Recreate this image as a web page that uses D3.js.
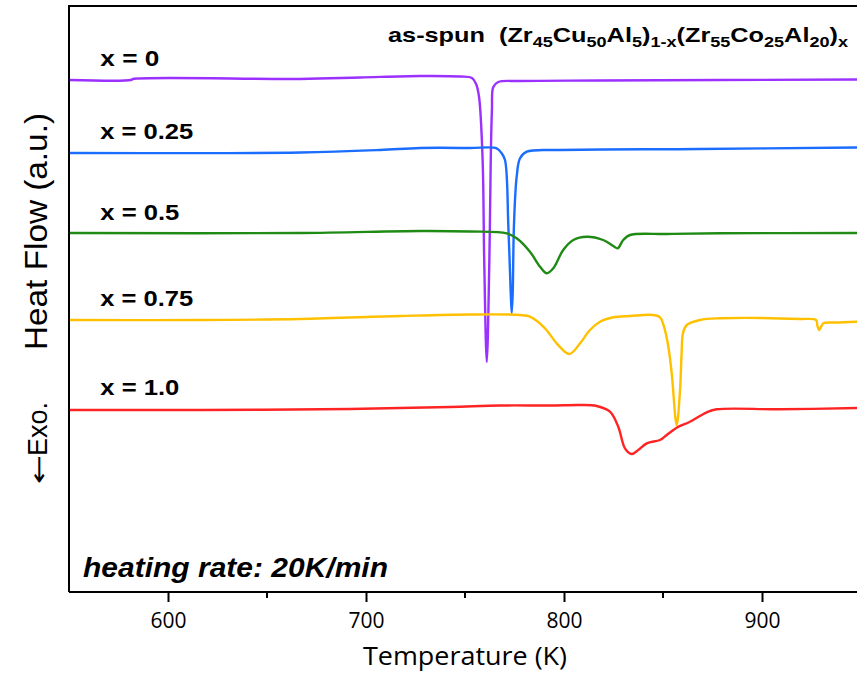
<!DOCTYPE html>
<html>
<head>
<meta charset="utf-8">
<script src="https://cdn.jsdelivr.net/npm/d3@7"></script>
<style>
  html, body { margin: 0; padding: 0; background: #fff; }
  svg { display: block; }
</style>
</head>
<body>
<svg id="chart" width="857" height="675"></svg>
<script>
// DSC traces of as-spun (Zr45Cu50Al5)1-x(Zr55Co25Al20)x ribbons, heated at 20 K/min.
// Heat flow is in arbitrary units; each trace carries its own vertical offset.

const seriesNames = ["x = 0", "x = 0.25", "x = 0.5", "x = 0.75", "x = 1.0"];
const seriesColors = ["#9b30ff", "#1a6dff", "#1f8a14", "#ffc000", "#ff2424"];

const xTicks = [600, 700, 800, 900];
const xMinorTicks = [650, 750, 850];

// x = 0
const tempX0 = [550, 581.3, 582.3, 666.7, 697.0, 727.3, 747.5, 753.5, 755.6, 757.1, 758.9, 759.7, 761.0, 762.3, 763.0, 763.6, 764.3, 766.8, 777.8, 818.2, 948.0];
const flowX0 = [512, 512, 513, 513, 514.5, 516, 515.5, 514, 508, 495, 432, 332, 230, 332, 432, 482, 505, 510, 511, 511.5, 512.5];

// x = 0.25
const tempX025 = [550, 666.7, 707.1, 727.3, 752.5, 766.0, 768.5, 770.2, 771.9, 773.1, 773.6, 774.1, 774.7, 776.1, 777.8, 781.2, 798.0, 868.7, 948.0];
const flowX025 = [439, 439.5, 442, 444, 444, 443.7, 438.7, 432, 365.3, 299, 279, 299, 365.3, 415.3, 433.7, 440.3, 442, 443, 444.5];

// x = 0.5
const tempX05 = [550, 666.7, 727.3, 752.5, 771.1, 776.1, 782.8, 787.9, 791.3, 794.6, 799.6, 804.7, 811.5, 819.8, 824.9, 827.1, 829.9, 833.3, 851.9, 878.8, 948.0];
const flowX05 = [359, 359, 361, 360.5, 358.7, 353.7, 340.3, 325.3, 318.7, 323.7, 342, 352, 355.3, 352, 346, 343.7, 352, 357, 358, 358.7, 359];

// x = 0.75
const tempX075 = [550, 616.2, 666.7, 717.2, 752.5, 777.8, 782.8, 790.4, 796.3, 802.7, 808.1, 813.1, 818.2, 824.9, 833.3, 845.1, 848.5, 850.5, 852.7, 854.4, 856.9, 858.6, 859.4, 860.1, 862.0, 868.7, 878.8, 919.2, 927.3, 928.0, 928.9, 929.8, 931.0, 936.9, 948.0];
const flowX075 = [272, 272, 273, 276, 277.5, 277, 275.3, 263.7, 248.7, 238, 248.7, 262, 270.3, 274.7, 276, 277, 274.7, 265.3, 245.3, 218.7, 167, 202, 239, 259, 267, 272, 273.7, 273, 272, 266, 262, 265, 268.7, 269.5, 270.3];

// x = 1.0
const tempX10 = [550, 616.2, 691.9, 742.4, 767.7, 792.9, 808.1, 816.5, 823.2, 827.4, 830.8, 834.2, 837.5, 841.8, 848.5, 851.9, 856.9, 863.6, 872.1, 877.1, 909.1, 948.0];
const flowX10 = [182, 182, 183, 185, 186.5, 186.5, 187, 186, 180.3, 165.3, 143.7, 138, 142, 148.7, 152, 157, 164.3, 170.3, 179.7, 182.7, 182.7, 184];

// Anchor temperature and heat-flow level of each series name
const labelTemp = [565.8, 565.8, 565.8, 565.8, 565.8];
const labelFlow = [526, 453, 372, 286, 197];

const temps = [tempX0, tempX025, tempX05, tempX075, tempX10];
const flows = [flowX0, flowX025, flowX05, flowX075, flowX10];

const margin = { left: 69, top: 6, bottom: 592, right: 857 };

const svg = d3.select("#chart");

const x = d3.scaleLinear().domain([550, 950]).range([margin.left, margin.left + 400 * 1.98]);
const y = d3.scaleLinear().domain([0, 586]).range([margin.bottom, margin.top]);

svg.append("defs").append("clipPath").attr("id", "plotClip")
  .append("rect")
  .attr("x", margin.left).attr("y", margin.top)
  .attr("width", margin.right - margin.left).attr("height", margin.bottom - margin.top);

// traces
const line = d3.line().x(d => x(d[0])).y(d => y(d[1])).curve(d3.curveCatmullRom.alpha(0.5));
const traces = svg.append("g").attr("clip-path", "url(#plotClip)");
temps.forEach((t, i) => {
  const pts = t.map((v, j) => [v, flows[i][j]]);
  traces.append("path")
    .datum(pts)
    .attr("d", line)
    .attr("fill", "none")
    .attr("stroke", seriesColors[i])
    .attr("stroke-width", 2.4)
    .attr("stroke-linejoin", "round");
});

// frame: top and left edges
svg.append("line")
  .attr("x1", margin.left).attr("x2", margin.right)
  .attr("y1", margin.top).attr("y2", margin.top)
  .attr("stroke", "#000").attr("stroke-width", 2);
svg.append("line")
  .attr("x1", margin.left).attr("x2", margin.left)
  .attr("y1", margin.top - 1).attr("y2", margin.bottom)
  .attr("stroke", "#000").attr("stroke-width", 2);

// bottom axis
const xAxis = d3.axisBottom(x).tickValues(xTicks).tickSize(10).tickSizeOuter(0).tickPadding(11).tickFormat(d3.format("d"));
const gx = svg.append("g").attr("transform", `translate(0,${margin.bottom})`).call(xAxis);
gx.select(".domain").attr("stroke-width", 2).attr("d", `M${margin.left},0H${margin.right}`);
gx.selectAll(".tick line").attr("stroke-width", 2);
gx.selectAll(".tick text")
  .attr("font-family", "'Open Sans', sans-serif")
  .attr("font-size", 21)
  .attr("fill", "#000");
const gxMinor = svg.append("g").attr("transform", `translate(0,${margin.bottom})`);
gxMinor.selectAll("line").data(xMinorTicks).join("line")
  .attr("x1", d => x(d)).attr("x2", d => x(d))
  .attr("y1", 0).attr("y2", 6)
  .attr("stroke", "#000").attr("stroke-width", 2);

// axis titles
svg.append("text")
  .attr("x", 363).attr("y", 665)
  .attr("font-family", "'Open Sans', sans-serif")
  .attr("font-size", 25)
  .attr("textLength", 204)
  .attr("lengthAdjust", "spacingAndGlyphs")
  .attr("fill", "#000")
  .text("Temperature (K)");

svg.append("text")
  .attr("transform", "translate(47,350) rotate(-90)")
  .attr("font-family", "'Liberation Sans', Arial, sans-serif")
  .attr("font-size", 32)
  .attr("textLength", 237)
  .attr("lengthAdjust", "spacingAndGlyphs")
  .attr("fill", "#000")
  .text("Heat Flow (a.u.)");

// exothermic direction marker
svg.append("text")
  .attr("transform", "translate(47,484) rotate(-90)")
  .attr("font-family", "'DejaVu Sans', sans-serif")
  .attr("font-size", 24)
  .attr("textLength", 29)
  .attr("lengthAdjust", "spacingAndGlyphs")
  .attr("fill", "#000")
  .text("\u2190");
svg.append("text")
  .attr("transform", "translate(47,456) rotate(-90)")
  .attr("font-family", "'Liberation Sans', Arial, sans-serif")
  .attr("font-size", 27)
  .attr("textLength", 54)
  .attr("lengthAdjust", "spacingAndGlyphs")
  .attr("fill", "#000")
  .text("Exo.");

// series names
const nameLengths = [59, 93, 79, 93, 79];
svg.append("g").selectAll("text").data(seriesNames).join("text")
  .attr("x", (d, i) => x(labelTemp[i]))
  .attr("y", (d, i) => y(labelFlow[i]))
  .attr("font-family", "'Liberation Sans', Arial, sans-serif")
  .attr("font-weight", "bold")
  .attr("font-size", 22)
  .attr("textLength", (d, i) => nameLengths[i])
  .attr("lengthAdjust", "spacingAndGlyphs")
  .attr("fill", "#000")
  .text(d => d);

// composition title with subscripts
const title = svg.append("text")
  .attr("x", 388).attr("y", 42)
  .attr("font-family", "'Liberation Sans', Arial, sans-serif")
  .attr("font-weight", "bold")
  .attr("font-size", 21)
  .attr("textLength", 460)
  .attr("lengthAdjust", "spacingAndGlyphs")
  .attr("fill", "#000");
const titleParts = [
  ["as-spun  (Zr", false], ["45", true], ["Cu", false], ["50", true], ["Al", false], ["5", true],
  [")", false], ["1-x", true], ["(Zr", false], ["55", true], ["Co", false], ["25", true],
  ["Al", false], ["20", true], [")", false], ["x", true]
];
let lowered = false;
titleParts.forEach(([s, sub]) => {
  const ts = title.append("tspan").text(s).attr("xml:space", "preserve");
  if (sub) ts.attr("font-size", 15);
  if (sub && !lowered) { ts.attr("dy", 5); lowered = true; }
  else if (!sub && lowered) { ts.attr("dy", -5); lowered = false; }
});

svg.append("text")
  .attr("x", 83).attr("y", 577)
  .attr("font-family", "'Liberation Sans', Arial, sans-serif")
  .attr("font-weight", "bold")
  .attr("font-style", "italic")
  .attr("font-size", 28)
  .attr("textLength", 305)
  .attr("lengthAdjust", "spacingAndGlyphs")
  .attr("fill", "#000")
  .text("heating rate: 20K/min");
</script>
</body>
</html>
